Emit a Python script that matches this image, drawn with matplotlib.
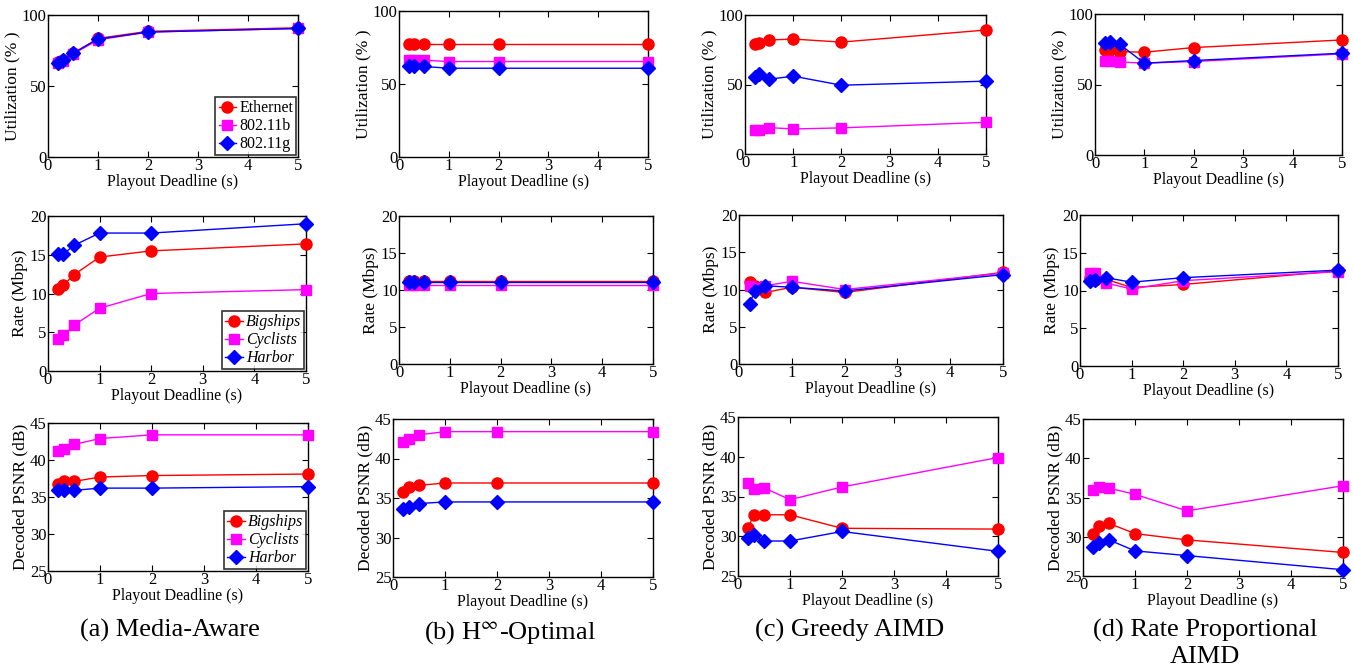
import matplotlib
matplotlib.use("Agg")
import matplotlib.pyplot as plt

plt.rcParams['font.family'] = ['Liberation Serif', 'DejaVu Serif']
plt.rcParams['mathtext.fontset'] = 'stix'

x = [0.2, 0.3, 0.5, 1, 2, 5]

# Row 1: Utilization (%) -- Ethernet, 802.11b, 802.11g
util_a = [[67, 68, 73, 83.5, 88.5, 91], [66, 67.5, 72.5, 82.5, 88, 90.5], [66.5, 68, 73, 83, 88, 90.5]]
util_b = [[77.2, 77.2, 77.2, 77.2, 77.2, 77.2], [66.3, 66.3, 66.3, 65.4, 65.4, 65.4], [62, 62, 62, 60.8, 60.8, 60.8]]
util_c = [[78.8, 79.6, 82, 82.7, 80.5, 89.2], [17.5, 17.5, 19, 18, 18.8, 22.8], [55.5, 57.7, 53.8, 56, 49.5, 52.4]]
util_d = [[74.5, 74.5, 73.3, 72.9, 76.2, 81.6], [66.7, 66.7, 66, 65.1, 66.3, 71.7], [79.7, 80, 78.5, 65.1, 67, 72.2]]

# Row 2: Rate (Mbps) -- Bigships, Cyclists, Harbor
rate_a = [[10.6, 11.1, 12.4, 14.7, 15.5, 16.4], [4.1, 4.6, 5.9, 8.1, 10.0, 10.5], [15.1, 15.1, 16.2, 17.8, 17.8, 19.0]]
rate_b = [[11.2, 11.2, 11.2, 11.2, 11.2, 11.2], [10.7, 10.7, 10.7, 10.7, 10.7, 10.7], [11.1, 11.1, 11.1, 11.1, 11.1, 11.1]]
rate_c = [[11.0, 10.5, 9.6, 10.3, 9.6, 12.3], [10.5, 10.2, 10.5, 11.1, 10.0, 12.2], [8.1, 9.8, 10.5, 10.3, 9.8, 12.0]]
rate_d = [[11.7, 11.4, 11.5, 10.4, 10.8, 12.6], [12.3, 12.3, 11.0, 10.2, 11.3, 12.5], [11.2, 11.4, 11.7, 11.1, 11.7, 12.7]]

# Row 3: Decoded PSNR (dB) -- Bigships, Cyclists, Harbor
psnr_a = [[36.8, 37.1, 37.1, 37.7, 37.9, 38.1], [41.2, 41.5, 42.1, 42.9, 43.4, 43.4], [35.9, 35.9, 35.9, 36.2, 36.2, 36.4]]
psnr_b = [[35.7, 36.4, 36.6, 36.9, 36.9, 36.9], [42.1, 42.5, 43.0, 43.4, 43.4, 43.4], [33.6, 33.9, 34.3, 34.5, 34.5, 34.5]]
psnr_c = [[31.1, 32.7, 32.7, 32.7, 31.0, 30.9], [36.7, 35.9, 36.1, 34.6, 36.2, 39.9], [29.8, 30.2, 29.4, 29.4, 30.6, 28.1]]
psnr_d = [[30.4, 31.4, 31.7, 30.4, 29.6, 28.0], [36.0, 36.3, 36.2, 35.4, 33.3, 36.5], [28.7, 29.2, 29.6, 28.2, 27.6, 25.8]]

net_labels = ['Ethernet', '802.11b', '802.11g']
video_labels = ['Bigships', 'Cyclists', 'Harbor']
captions = ['(a) Media-Aware', r'(b) H$^{\infty}$-Optimal', '(c) Greedy AIMD', '(d) Rate Proportional\nAIMD']

colors = ['#ff0000', '#ff00ff', '#0000ff']
markers = ['o', 's', 'D']
msizes = [8, 7, 7]

W, H = 1353, 672
fig = plt.figure(figsize=(W / 100, H / 100), dpi=100)

# pixel boxes: left, top, right, bottom
boxes = [
    [(48, 15, 298, 157), (399, 11, 648, 157), (745, 15, 986, 154), (1095, 14, 1342, 155)],
    [(48, 216, 306, 371), (399, 216, 653, 364), (739, 215, 1003, 364), (1080, 215, 1338, 366)],
    [(48, 423, 308, 571), (393, 419, 653, 577), (738, 417, 998, 576), (1083, 419, 1343, 576)],
]

rows = [
    ([util_a, util_b, util_c, util_d], 'Utilization (% )', (0, 100), [0, 50, 100], net_labels, 'normal'),
    ([rate_a, rate_b, rate_c, rate_d], 'Rate (Mbps)', (0, 20), [0, 5, 10, 15, 20], video_labels, 'italic'),
    ([psnr_a, psnr_b, psnr_c, psnr_d], 'Decoded PSNR (dB)', (25, 45), [25, 30, 35, 40, 45], video_labels, 'italic'),
]

for r, (datasets, ylabel, ylim, yticks, labels, style) in enumerate(rows):
    for c, data in enumerate(datasets):
        l, t, rr, b = boxes[r][c]
        ax = fig.add_axes([l / W, 1 - b / H, (rr - l) / W, (b - t) / H])
        for i, series in enumerate(data):
            ax.plot(x, series, color=colors[i], marker=markers[i], markersize=msizes[i],
                    linewidth=1.0, label=labels[i], clip_on=False, zorder=3)
        ax.set_xlim(0, 5)
        ax.set_ylim(*ylim)
        ax.set_xticks([0, 1, 2, 3, 4, 5])
        ax.set_yticks(yticks)
        ax.tick_params(direction='in', top=True, right=True, labelsize=12, length=4, width=0.8, pad=1)
        for sp in ax.spines.values():
            sp.set_linewidth(1.0)
        ax.set_xlabel('Playout Deadline (s)', fontsize=11.5, labelpad=0)
        ax.set_ylabel(ylabel, fontsize=12.5, labelpad=1)
        if c == 0:
            leg = ax.legend(loc='lower right', frameon=True, fancybox=False,
                            edgecolor='black', borderaxespad=0.1, handlelength=1.1,
                            handletextpad=0.2, labelspacing=0.12, borderpad=0.2,
                            prop={'style': style, 'size': 11.5})
            leg.get_frame().set_linewidth(1.2)
            leg.set_zorder(5)

centers = [170, 510, 850, 1205]
for c, cap in enumerate(captions):
    fig.text(centers[c] / W, 1 - 619 / H, cap, ha='center', va='top', fontsize=19, linespacing=1.25)

fig.savefig('out.png', dpi=100)
